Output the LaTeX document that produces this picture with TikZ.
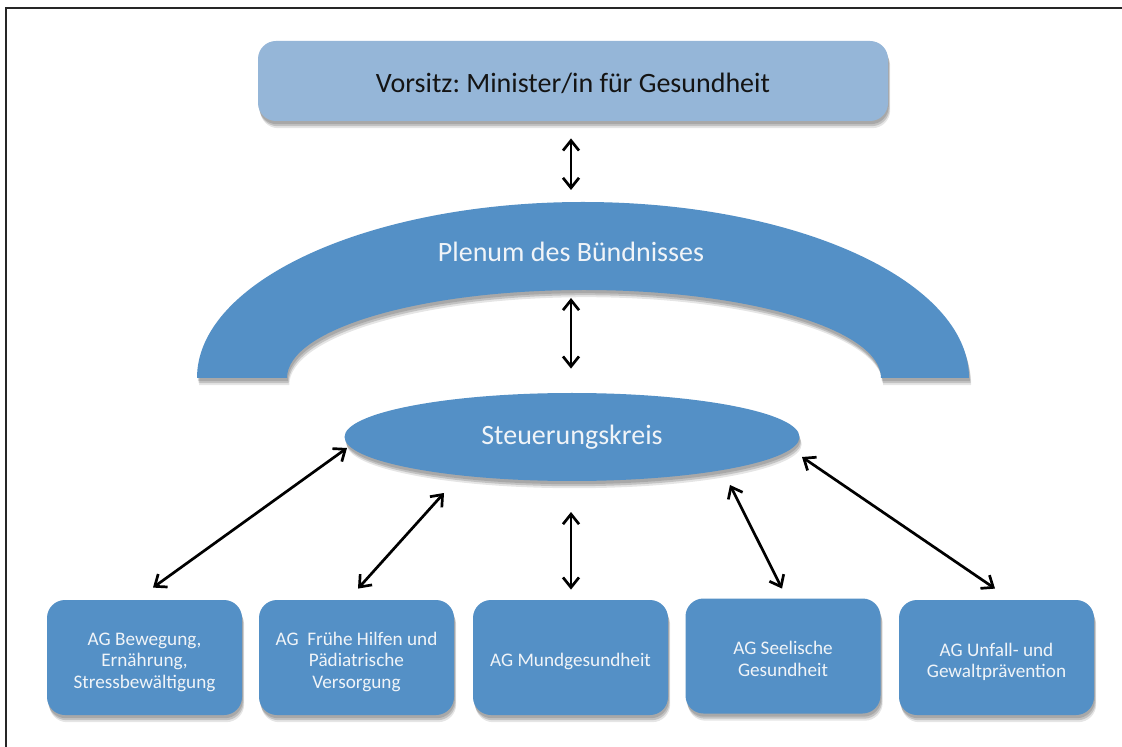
\documentclass[tikz,border=0pt]{standalone}
\usepackage{fontspec}
\setmainfont{Carlito}
\usetikzlibrary{shapes.geometric,shadows,arrows.meta,calc}
\definecolor{mainblue}{HTML}{5490C6}
\definecolor{lightblue}{HTML}{95B6D8}
\definecolor{txtdark}{HTML}{141414}
\definecolor{txtlight}{HTML}{F0F4F8}
\newcommand{\agtext}[1]{\raisebox{-2.6pt}[\height][\depth]{\begin{tabular}{@{}c@{}}#1\end{tabular}}}
\frenchspacing
\begin{document}
\begin{tikzpicture}[x=0.5pt,y=-0.5pt,
  softshadow/.style={
    drop shadow={shadow xshift=0.4pt, shadow yshift=-1.6pt, opacity=0.13, fill=black},
    drop shadow={shadow xshift=0.8pt, shadow yshift=-2.6pt, opacity=0.15, fill=black},
    drop shadow={shadow xshift=1.1pt, shadow yshift=-3.6pt, opacity=0.10, fill=black}},
  topbox/.style={rectangle, rounded corners=9pt, fill=lightblue, minimum width=315pt,
    minimum height=40pt, text=txtdark, font=\fontsize{14}{17}\selectfont, softshadow},
  agbox/.style={rectangle, rounded corners=9pt, fill=mainblue, minimum width=97.5pt,
    minimum height=57.5pt, inner sep=2pt, text=txtlight,
    font=\fontsize{9.6}{10.7}\selectfont, softshadow},
  kreisnode/.style={ellipse, fill=mainblue, minimum width=227.5pt, minimum height=44pt,
    inner sep=0pt, text=txtlight, font=\fontsize{14}{17}\selectfont, softshadow},
  plenumtext/.style={text=txtlight, font=\fontsize{14}{17}\selectfont},
  biarrow/.style={{Straight Barb[length=5pt,width=8pt]}-{Straight Barb[length=5pt,width=8pt]},
    line width=1.35pt, black},
  frameline/.style={line width=0.8pt, draw=black!85},
  archpath/.style={insert path={
    (197,378) .. controls (197,280.8) and (369.8,202) .. (583,202)
    .. controls (796.2,202) and (969,280.8) .. (969,378)
    -- (881,378) .. controls (881,329.4) and (748,290) .. (584,290)
    .. controls (420,290) and (287,329.4) .. (287,378) -- cycle}}
]
\useasboundingbox (0,0) rectangle (1122,747);
\fill[white] (0,0) rectangle (1122,747);
\draw[frameline] (6,747) -- (6,8) -- (1122,8);

% arch (Plenum) with soft shadow
\fill[black, opacity=0.13, shift={(0.8,3.2)}, archpath];
\fill[black, opacity=0.15, shift={(1.6,5.2)}, archpath];
\fill[black, opacity=0.10, shift={(2.2,7.2)}, archpath];
\fill[mainblue, archpath];
\coordinate (archtop) at (571,202);
\coordinate (archbot) at (571,290);
\node[plenumtext] (plenum) at (571,252) {Plenum des Bündnisses};

% top box
\node[topbox] (vorsitz) at (573,81) {\raisebox{-1pt}[\height][\depth]{Vorsitz: Minister/in für Gesundheit}};

% Steuerungskreis
\node[kreisnode] (kreis) at (572,437) {Steuerungskreis};

% AG boxes
\node[agbox] (ag1) at (144.5,657.5) {\agtext{AG Bewegung,\\Ernährung,\\Stressbewältigung}};
\node[agbox] (ag2) at (356.5,657.5) {\agtext{AG\ \ Frühe Hilfen und\\Pädiatrische\\Versorgung}};
\node[agbox] (ag3) at (570.5,657.5) {\agtext{AG Mundgesundheit}};
\node[agbox] (ag4) at (783,656) {\agtext{AG Seelische\\Gesundheit}};
\node[agbox] (ag5) at (996.5,657.5) {\agtext{AG Unfall- und\\Gewaltprävention}};

% arrows
\draw[biarrow] ($(vorsitz.south)+(-2,17)$) -- ($(archtop)+(0,-12)$);
\draw[biarrow] ($(archbot)+(0,8)$) -- ($(kreis.north)+(-1,-24)$);
\draw[biarrow] ($(ag1.north)+(8.5,-12)$) -- ($(kreis.center)+(-225,11)$);
\draw[biarrow] ($(ag2.north)+(1.5,-11)$) -- ($(kreis.center)+(-128,56)$);
\draw[biarrow] ($(ag3.north)+(0.5,-10)$) -- ($(kreis.center)+(-1,75)$);
\draw[biarrow] ($(ag4.north)+(-1,-9.5)$) -- ($(kreis.center)+(158,48)$);
\draw[biarrow] ($(ag5.north)+(-1.5,-11)$) -- ($(kreis.center)+(230,20)$);
\end{tikzpicture}
\end{document}
